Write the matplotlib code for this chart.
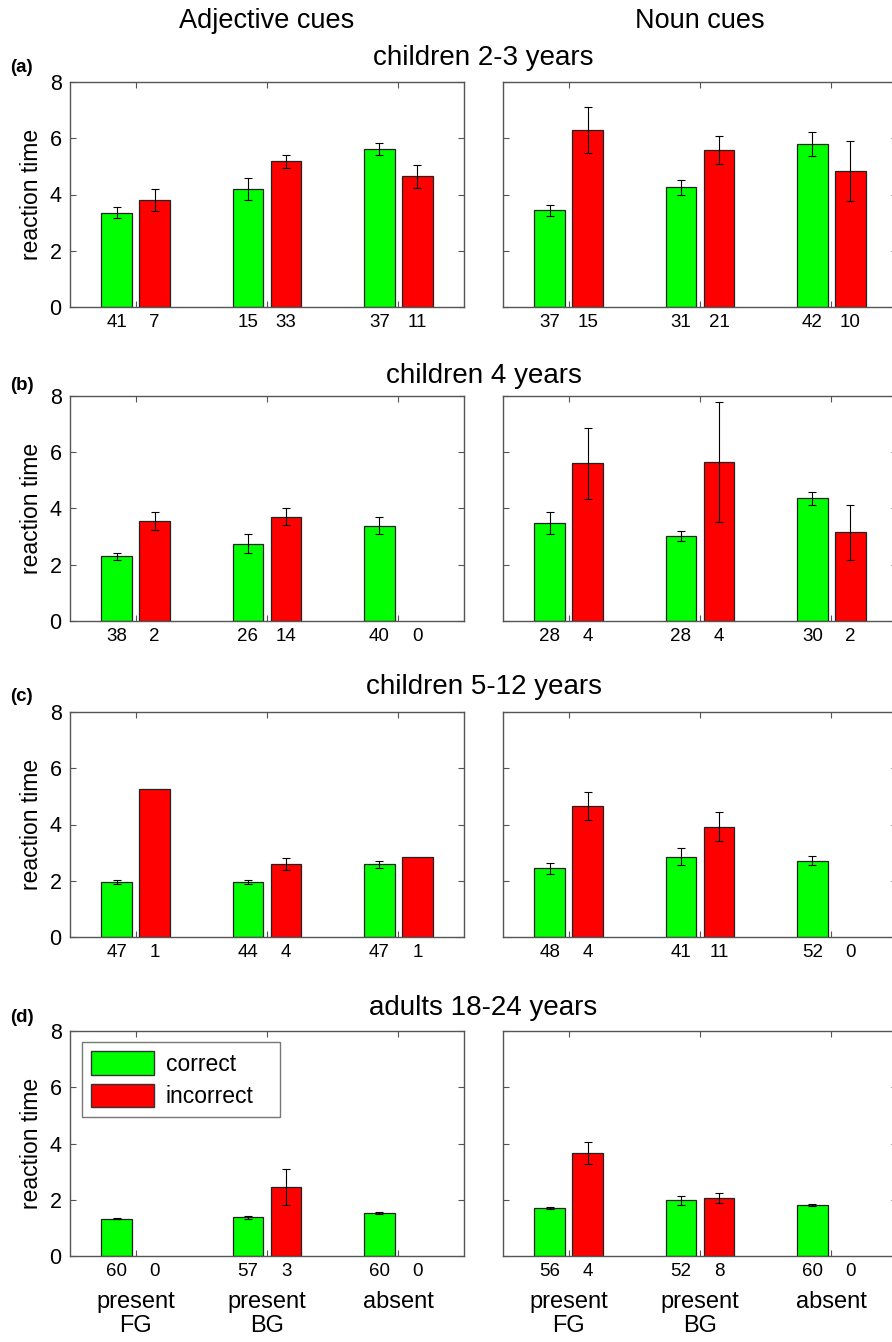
import matplotlib
matplotlib.use('Agg')
import matplotlib.pyplot as plt
import matplotlib.transforms as mtransforms
from matplotlib.patches import Patch
import numpy as np

plt.rcParams['font.family'] = ['Liberation Sans', 'DejaVu Sans']

# --- data ---
groups = ['present\nFG', 'present\nBG', 'absent']
ages = ['children 2-3 years', 'children 4 years', 'children 5-12 years', 'adults 18-24 years']
tags = ['(a)', '(b)', '(c)', '(d)']
cue_types = ['Adjective cues', 'Noun cues']

adj_correct_mean = [[3.35, 4.20, 5.62], [2.30, 2.75, 3.38], [1.95, 1.96, 2.58], [1.33, 1.38, 1.53]]
adj_correct_err = [[0.20, 0.38, 0.21], [0.12, 0.33, 0.30], [0.06, 0.07, 0.11], [0.02, 0.05, 0.03]]
adj_incorrect_mean = [[3.80, 5.18, 4.65], [3.56, 3.71, 0], [5.27, 2.60, 2.85], [0, 2.46, 0]]
adj_incorrect_err = [[0.40, 0.23, 0.41], [0.31, 0.29, 0], [0, 0.20, 0], [0, 0.65, 0]]
adj_n_correct = [[41, 15, 37], [38, 26, 40], [47, 44, 47], [60, 57, 60]]
adj_n_incorrect = [[7, 33, 11], [2, 14, 0], [1, 4, 1], [0, 3, 0]]

noun_correct_mean = [[3.44, 4.25, 5.79], [3.47, 3.02, 4.36], [2.44, 2.86, 2.71], [1.71, 1.99, 1.81]]
noun_correct_err = [[0.19, 0.27, 0.43], [0.39, 0.19, 0.24], [0.20, 0.29, 0.16], [0.05, 0.16, 0.03]]
noun_incorrect_mean = [[6.29, 5.58, 4.85], [5.61, 5.65, 3.16], [4.67, 3.92, 0], [3.65, 2.07, 0]]
noun_incorrect_err = [[0.81, 0.50, 1.07], [1.26, 2.12, 0.98], [0.50, 0.52, 0], [0.39, 0.18, 0]]
noun_n_correct = [[37, 31, 42], [28, 28, 30], [48, 41, 52], [56, 52, 60]]
noun_n_incorrect = [[15, 21, 10], [4, 4, 2], [4, 11, 0], [4, 8, 0]]

GREEN = '#00ff00'
RED = '#ff0000'
SPINE = '#555555'

W, H = 892, 1342
fig = plt.figure(figsize=(W / 100, H / 100), dpi=100)

# axes layout in pixels (right column runs slightly past the edge, as in the original)
col_left = [70, 503]
ax_w = 394
row_top = [82, 396, 712, 1031]
ax_h = 225
title_base = [65, 383, 694, 1015]

x = np.arange(1, 4)
off = 0.145
bw = 0.235

for r in range(4):
    for c in range(2):
        left = col_left[c]
        ax = fig.add_axes([left / W, 1 - (row_top[r] + ax_h) / H, ax_w / W, ax_h / H])
        if c == 0:
            cm, ce = adj_correct_mean[r], adj_correct_err[r]
            im, ie = adj_incorrect_mean[r], adj_incorrect_err[r]
            nc, ni = adj_n_correct[r], adj_n_incorrect[r]
        else:
            cm, ce = noun_correct_mean[r], noun_correct_err[r]
            im, ie = noun_incorrect_mean[r], noun_incorrect_err[r]
            nc, ni = noun_n_correct[r], noun_n_incorrect[r]

        for pos, m, e, col in [(x - off, cm, ce, GREEN), (x + off, im, ie, RED)]:
            m = np.array(m, dtype=float)
            e = np.array(e, dtype=float)
            show = m > 0
            ax.bar(pos[show], m[show], width=bw, color=col, edgecolor='#222222',
                   linewidth=0.9, zorder=2)
            has_err = show & (e > 0)
            ax.errorbar(pos[has_err], m[has_err], yerr=e[has_err], fmt='none',
                        ecolor='black', elinewidth=0.8, capsize=3, capthick=0.8, zorder=3)

        ax.set_xlim(0.5, 3.5)
        ax.set_ylim(0, 8)
        ax.set_yticks([0, 2, 4, 6, 8])
        ax.set_xticks(x)
        ax.set_xticklabels(['', '', ''])
        ax.set_xticks(np.concatenate([x - off, x + off]), minor=True)
        ax.set_xticklabels([str(v) for v in list(nc) + list(ni)], minor=True)
        ax.tick_params(which='major', direction='in', length=4, width=0.8, color=SPINE,
                       top=True, right=True, labelsize=15.5, pad=6)
        ax.tick_params(which='minor', length=0, pad=5, labelsize=13.5)
        for s in ax.spines.values():
            s.set_color(SPINE)
            s.set_linewidth(1.0)
        if c == 0:
            ax.set_ylabel('reaction time', fontsize=16.5, labelpad=5)
        else:
            ax.set_yticklabels([])

        if r == 3:
            trans = mtransforms.blended_transform_factory(ax.transData, ax.transAxes)
            for xi, g in zip(x, groups):
                ax.text(xi, -0.155, g, transform=trans, ha='center', va='top',
                        fontsize=17, linespacing=1.12)
            if c == 0:
                handles = [Patch(facecolor=GREEN, edgecolor='#333333', label='correct'),
                           Patch(facecolor=RED, edgecolor='#333333', label='incorrect')]
                leg = ax.legend(handles=handles, loc='upper left',
                                bbox_to_anchor=(12 / ax_w, 1 - 11 / ax_h, 198 / ax_w, 0.0),
                                mode='expand', borderaxespad=0, fontsize=16.5, fancybox=False,
                                handlelength=2.75, handleheight=1.2, handletextpad=0.5,
                                labelspacing=0.35, borderpad=0.4)
                leg.get_frame().set_edgecolor(SPINE)
                leg.get_frame().set_linewidth(1.0)

    fig.text((col_left[0] + col_left[1] + ax_w) / 2 / W, 1 - title_base[r] / H, ages[r],
             ha='center', va='baseline', fontsize=20)
    fig.text(10 / W, 1 - (title_base[r] + 7) / H, tags[r], ha='left', va='baseline',
             fontsize=13.5, fontweight='bold')

for c in range(2):
    fig.text((col_left[c] + ax_w / 2) / W, 1 - 28 / H, cue_types[c], ha='center',
             va='baseline', fontsize=19.5)

fig.savefig('out.png', dpi=100)
